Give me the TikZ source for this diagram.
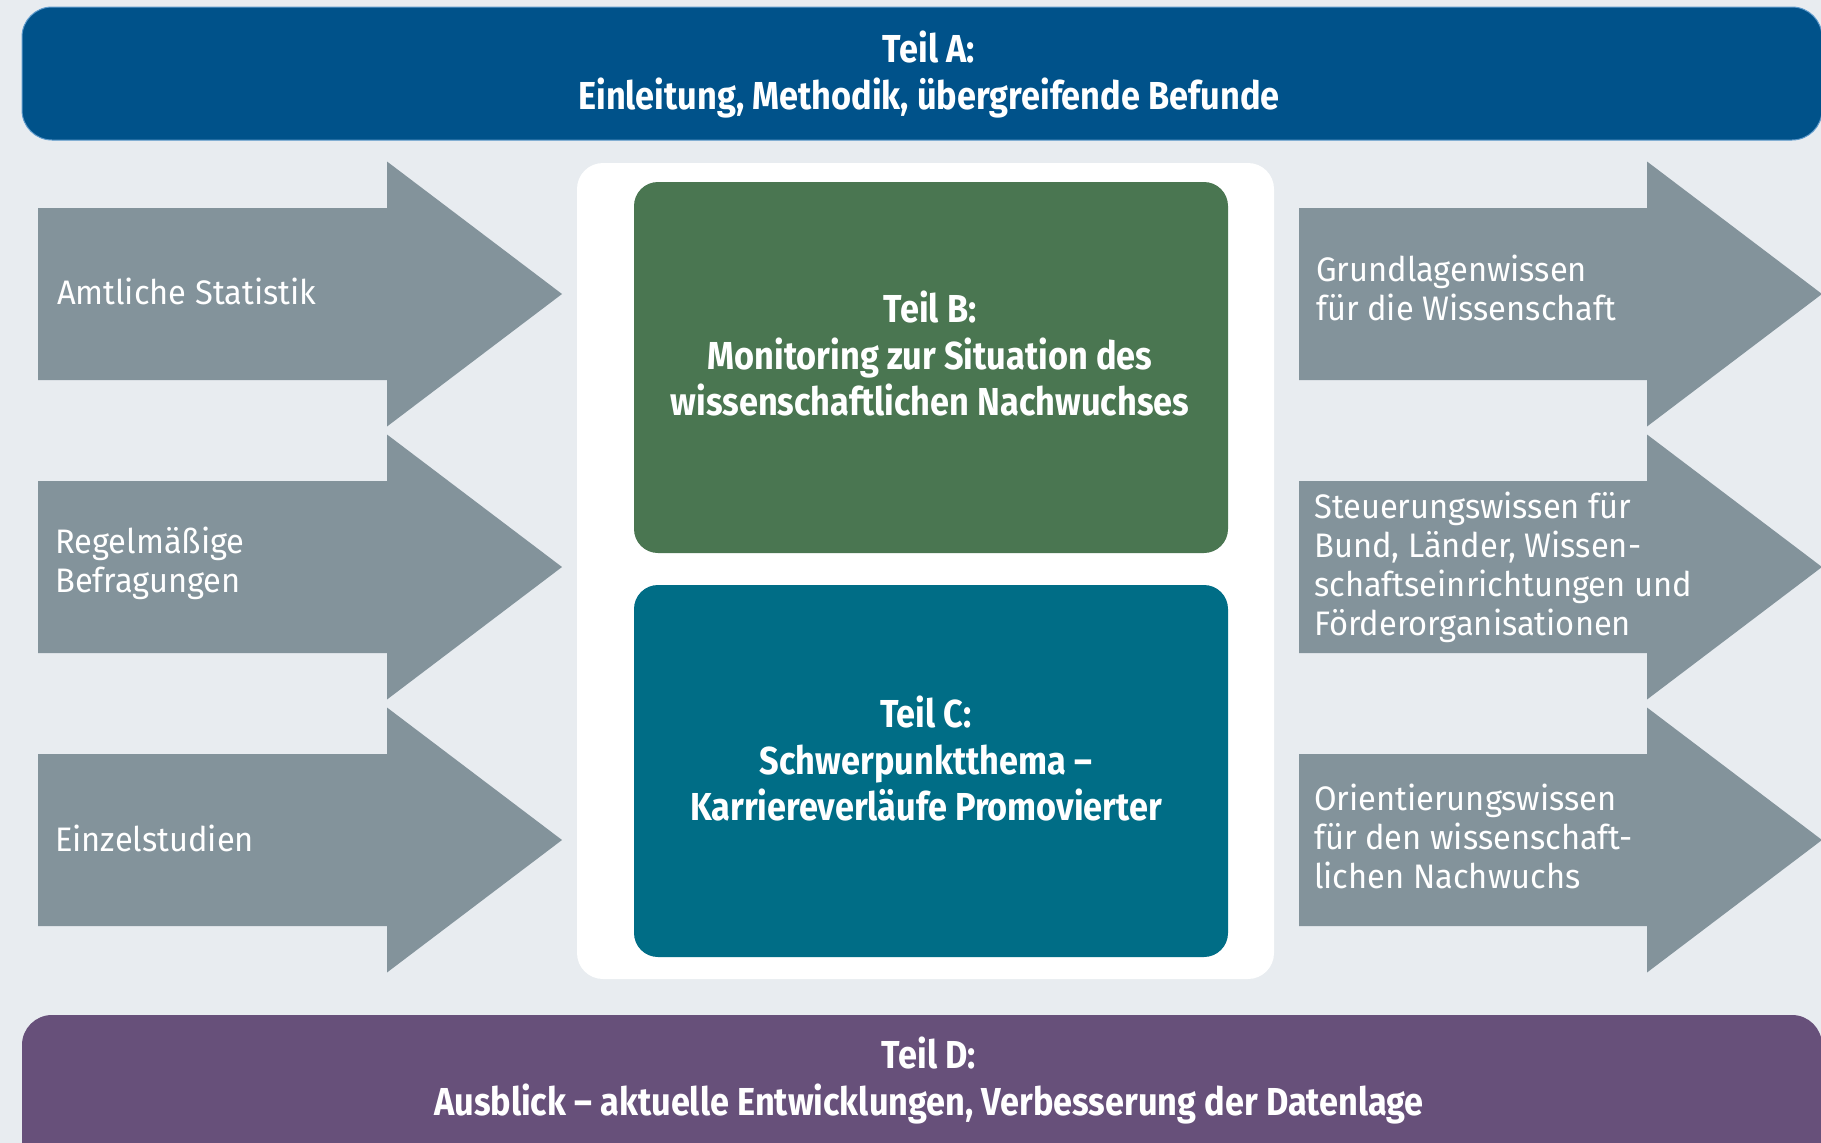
\documentclass[tikz,border=0pt]{standalone}
\usepackage{fontspec}
\setmainfont{Fira Sans}
\newfontfamily\headfont[FakeStretch=0.88]{Fira Sans}
\newfontfamily\arrowfont[FakeStretch=0.96]{Fira Sans}
\definecolor{bgpanel}{HTML}{E8ECF0}
\definecolor{partA}{HTML}{00528A}
\definecolor{partAedge}{HTML}{5E9ACB}
\definecolor{partB}{HTML}{4A7651}
\definecolor{partC}{HTML}{006D86}
\definecolor{partD}{HTML}{67507A}
\definecolor{arrowgray}{HTML}{83939B}
% block arrow: body left x, head start x, centre y
\newcommand\blockarrow[3]{%
  \fill[arrowgray] (#1,#3-86) -- (#2,#3-86) -- (#2,#3-132.5) -- (#2+175,#3)
    -- (#2,#3+132.5) -- (#2,#3+86) -- (#1,#3+86) -- cycle;}
\begin{document}
\begin{tikzpicture}[x=1pt,y=-1pt,
  arrowtxt/.style={anchor=west, align=left, text=white, inner sep=0pt,
    font=\arrowfont\fontsize{34}{39}\selectfont},
  parttxt/.style={align=center, text=white, inner sep=0pt,
    font=\headfont\bfseries\fontsize{39}{46.5}\selectfont}]
\useasboundingbox (0,0) rectangle (1821,1143);
\clip (0,0) rectangle (1821,1143);
\fill[bgpanel] (0,0) rectangle (1821,1143);

% top and bottom bars
\filldraw[fill=partA, draw=partAedge, line width=1pt, rounded corners=30]
  (22,7) rectangle (1822,140);
\fill[partD, rounded corners=30] (22,1015) rectangle (1822,1190);

% central white panel with parts B and C
\fill[white, rounded corners=26] (577,163) rectangle (1274,979);
\fill[partB, rounded corners=24] (634,182) rectangle (1228,553);
\fill[partC, rounded corners=24] (634,585) rectangle (1228,957);

% incoming arrows
\blockarrow{38}{387}{294}
\blockarrow{38}{387}{567}
\blockarrow{38}{387}{840}
% outgoing arrows
\blockarrow{1299}{1647}{294}
\blockarrow{1299}{1647}{567}
\blockarrow{1299}{1647}{840}

% texts
\node[parttxt] (tA) at (929,74.5) {Teil A:\\Einleitung, Methodik, übergreifende Befunde};
\node[parttxt] (tB) at (930,354) {Teil B:\\Monitoring zur Situation des\\wissenschaftlichen Nachwuchses};
\node[parttxt] (tC) at (926,759) {Teil C:\\Schwerpunktthema –\\Karriereverläufe Promovierter};
\node[parttxt] (tD) at (929,1080.5) {Teil D:\\Ausblick – aktuelle Entwicklungen, Verbesserung der Datenlage};

\node[arrowtxt] (in1) at (57,291) {Amtliche Statistik};
\node[arrowtxt] (in2) at (55,563.5) {Regelmäßige\\Befragungen};
\node[arrowtxt] (in3) at (55,838) {Einzelstudien};

\node[arrowtxt] (out1) at (1316,288) {Grundlagenwissen\\für die Wissenschaft};
\node[arrowtxt] (out2) at (1314,567) {Steuerungswissen für\\Bund, Länder, Wissen-\\schaftseinrichtungen und\\Förderorganisationen};
\node[arrowtxt] (out3) at (1314,836) {Orientierungswissen\\für den wissenschaft-\\lichen Nachwuchs};
\end{tikzpicture}
\end{document}
